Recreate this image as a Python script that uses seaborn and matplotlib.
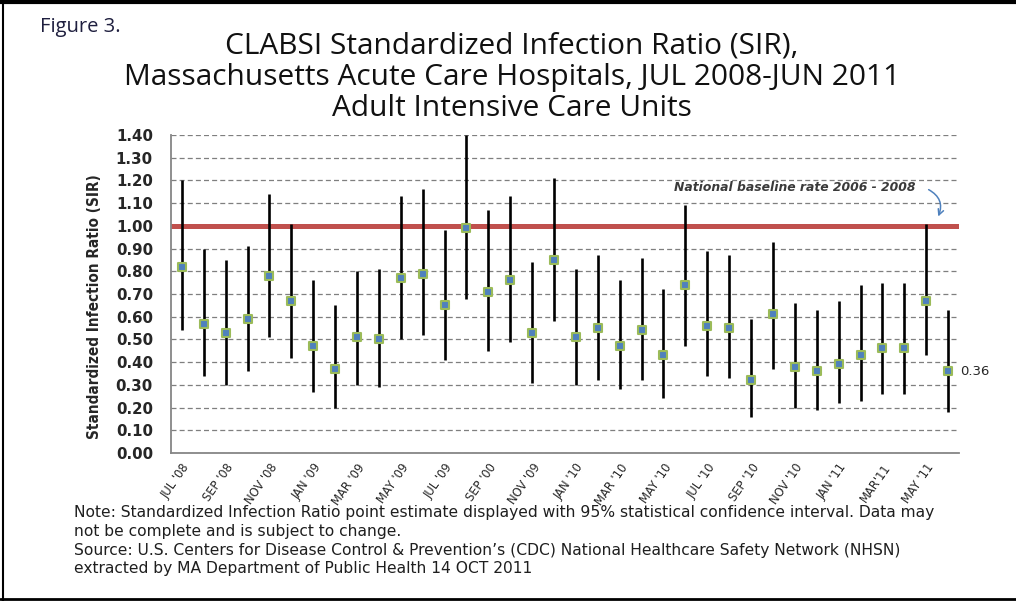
import numpy as np
import pandas as pd
import matplotlib
matplotlib.use('Agg')
import matplotlib.pyplot as plt
import seaborn as sns
from matplotlib.lines import Line2D

# Monthly CLABSI SIR with 95% CI, JUL 2008 - JUN 2011
months = [
    "JUL '08", "AUG '08", "SEP '08", "OCT '08", "NOV '08", "DEC '08",
    "JAN '09", "FEB '09", "MAR '09", "APR '09", "MAY '09", "JUN '09",
    "JUL '09", "AUG '09", "SEP '09", "OCT '09", "NOV '09", "DEC '09",
    "JAN '10", "FEB '10", "MAR '10", "APR '10", "MAY '10", "JUN '10",
    "JUL '10", "AUG '10", "SEP '10", "OCT '10", "NOV '10", "DEC '10",
    "JAN '11", "FEB '11", "MAR '11", "APR '11", "MAY '11", "JUN '11",
]
sir = [0.82, 0.57, 0.53, 0.59, 0.78, 0.67, 0.47, 0.37, 0.51, 0.50, 0.77, 0.79,
       0.65, 0.99, 0.71, 0.76, 0.53, 0.85, 0.51, 0.55, 0.47, 0.54, 0.43, 0.74,
       0.56, 0.55, 0.32, 0.61, 0.38, 0.36, 0.39, 0.43, 0.46, 0.46, 0.67, 0.36]
ci_low = [0.54, 0.34, 0.30, 0.36, 0.51, 0.42, 0.27, 0.20, 0.30, 0.29, 0.50, 0.52,
          0.41, 0.68, 0.45, 0.49, 0.31, 0.58, 0.30, 0.32, 0.28, 0.32, 0.24, 0.47,
          0.34, 0.33, 0.16, 0.37, 0.20, 0.19, 0.22, 0.23, 0.26, 0.26, 0.43, 0.18]
ci_high = [1.20, 0.90, 0.85, 0.91, 1.14, 1.01, 0.76, 0.65, 0.80, 0.81, 1.13, 1.16,
           0.98, 1.40, 1.07, 1.13, 0.84, 1.21, 0.81, 0.87, 0.76, 0.86, 0.72, 1.09,
           0.89, 0.87, 0.59, 0.93, 0.66, 0.63, 0.67, 0.74, 0.75, 0.75, 1.01, 0.63]
tick_labels = ["JUL '08", "SEP '08", "NOV '08", "JAN '09", "MAR '09", "MAY '09",
               "JUL '09", "SEP '00", "NOV '09", "JAN '10", "MAR '10", "MAY '10",
               "JUL '10", "SEP '10", "NOV '10", "JAN '11", "MAR'11", "MAY '11"]
baseline = 1.0

df = pd.DataFrame({'month': months, 'sir': sir, 'low': ci_low, 'high': ci_high})
df['pos'] = np.arange(len(df))

sns.set_style('white')
plt.rcParams['font.family'] = ['DejaVu Sans']

fig = plt.figure(figsize=(10.16, 6.01), dpi=100)
ax = fig.add_axes([0.1683, 0.2463, 0.7756, 0.5291])

# baseline and error bars
ax.axhline(baseline, color='#C0504D', lw=3.6, zorder=2)
ax.vlines(df['pos'], df['low'], df['high'], color='black', lw=1.9, zorder=3)
sns.scatterplot(data=df, x='pos', y='sir', marker='s', s=36, color='#4F81BD',
                edgecolor='#9BBB59', linewidth=1.5, zorder=4, ax=ax, legend=False)

ax.set_xlim(-0.5, len(months) - 0.5)
ax.set_ylim(0, 1.4)
yt = np.round(np.arange(0, 1.41, 0.1), 2)
ax.set_yticks(yt)
ax.set_yticklabels([f'{v:.2f}' for v in yt], fontsize=10.8, fontweight='bold', color='#262626')
ax.yaxis.grid(True, ls=(0, (4, 2.5)), color='#7F7F7F', lw=0.9, zorder=1)
ax.xaxis.grid(False)

ax.set_xticks(df['pos'][::2])
ax.set_xticklabels(tick_labels, rotation=55, ha='right', rotation_mode='anchor',
                   fontsize=8.3, color='#262626')
ax.set_xticks(np.arange(-0.5, len(months)), minor=True)
ax.tick_params(axis='x', which='major', length=0, pad=6)
ax.tick_params(axis='x', which='minor', length=5, color='#868686', width=1.2)
ax.tick_params(axis='y', length=6, color='#868686', width=1.2, pad=7)
ax.set_xlabel('')

for s in ['top', 'right']:
    ax.spines[s].set_visible(False)
for s in ['left', 'bottom']:
    ax.spines[s].set_color('#868686')
    ax.spines[s].set_linewidth(1.3)

ax.set_ylabel('Standardized Infection Ratio (SIR)', fontsize=11, fontweight='bold',
              fontstretch='condensed')
ax.yaxis.set_label_coords(-0.088, 0.46)

# annotations
ax.text(22.5, 1.17, 'National baseline rate 2006 - 2008', fontsize=8.9,
        style='italic', fontweight='bold', color='#3A3A3A',
        va='center', ha='left')
ax.annotate('', xy=(34.5, 1.03), xytext=(34.0, 1.165),
            arrowprops=dict(arrowstyle='->', color='#4F81BD', lw=1.1,
                            connectionstyle='arc3,rad=-0.5'))
ax.text(35.55, sir[-1], f'{sir[-1]:.2f}', fontsize=9.5, color='#262626',
        va='center', ha='left')

# titles and notes
fig.text(0.039, 0.946, 'Figure 3.', fontsize=14.5, family='Open Sans', color='#1F1F3F')
title_lines = ['CLABSI Standardized Infection Ratio (SIR),',
               'Massachusetts Acute Care Hospitals, JUL 2008-JUN 2011',
               'Adult Intensive Care Units']
for i, line in enumerate(title_lines):
    fig.text(0.504, 1 - (46 + 31 * i) / 601, line, fontsize=21.5, family='Open Sans',
             ha='center', va='center', color='#111111')

notes = ['Note: Standardized Infection Ratio point estimate displayed with 95% statistical confidence interval. Data may',
         'not be complete and is subject to change.',
         'Source: U.S. Centers for Disease Control & Prevention\u2019s (CDC) National Healthcare Safety Network (NHSN)',
         'extracted by MA Department of Public Health 14 OCT 2011']
for i, line in enumerate(notes):
    fig.text(0.073, 1 - (513 + 18.5 * i) / 601, line, fontsize=11.2, family='DejaVu Sans',
             ha='left', va='center', color='#1F1F1F')

# frame lines
fig.add_artist(Line2D([0, 1], [0.997, 0.997], transform=fig.transFigure, color='black', lw=3))
fig.add_artist(Line2D([0.003, 0.003], [0, 1], transform=fig.transFigure, color='black', lw=1.5))
fig.add_artist(Line2D([0, 1], [0.004, 0.004], transform=fig.transFigure, color='black', lw=2))

fig.savefig('out.png', dpi=100)
